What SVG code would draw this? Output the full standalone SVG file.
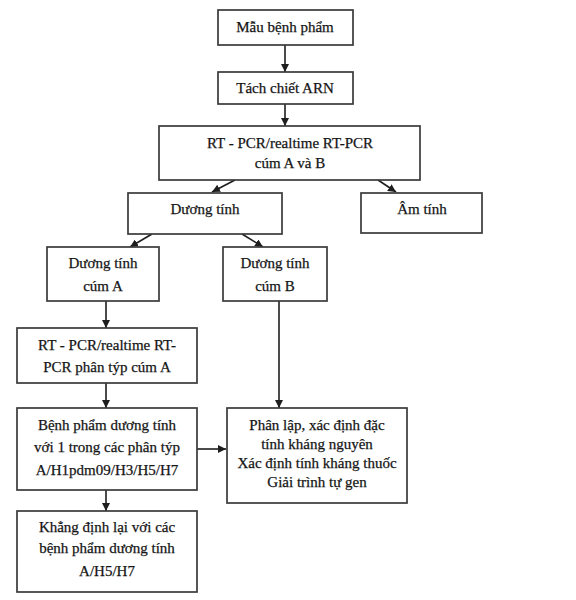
<svg xmlns="http://www.w3.org/2000/svg" width="576" height="600" viewBox="0 0 576 600">
<style>
.box{fill:#fff;stroke:#3a3a3a;stroke-width:1.7}
.t{font-family:"Liberation Serif","Times New Roman",serif;font-size:15px;fill:#151515;stroke:#151515;stroke-width:0.25;text-anchor:middle}
.c{stroke:#1e1e1e;stroke-width:1.6;fill:none;marker-end:url(#ah)}
</style>
<defs>
<marker id="ah" viewBox="0 0 10 10" refX="10" refY="5" markerWidth="8" markerHeight="8" markerUnits="userSpaceOnUse" orient="auto">
<path d="M0,0 L10,5 L0,10 z" fill="#1e1e1e"/>
</marker>
</defs>
<rect width="576" height="600" fill="#fff"/>
<g id="connectors">
<line class="c" x1="285" y1="45" x2="285" y2="72"/>
<line class="c" x1="285" y1="104" x2="285" y2="126"/>
<line class="c" x1="235" y1="180" x2="212" y2="192"/>
<line class="c" x1="378" y1="180" x2="396" y2="192"/>
<line class="c" x1="152" y1="234" x2="130" y2="247"/>
<line class="c" x1="242" y1="234" x2="263" y2="247"/>
<line class="c" x1="106" y1="301" x2="106" y2="328"/>
<line class="c" x1="279" y1="301" x2="279" y2="408"/>
<line class="c" x1="106" y1="383" x2="106" y2="408"/>
<line class="c" x1="197" y1="449" x2="226" y2="449"/>
<line class="c" x1="106" y1="490" x2="106" y2="511"/>
</g>
<g id="n1"><rect class="box" x="218" y="10" width="135" height="35"/><text class="t" x="285" y="32">Mẫu bệnh phẩm</text></g>
<g id="n2"><rect class="box" x="218" y="72" width="135" height="32"/><text class="t" x="285" y="93">Tách chiết ARN</text></g>
<g id="n3"><rect class="box" x="159" y="126" width="261" height="54"/><text class="t" x="290" y="148">RT - PCR/realtime RT-PCR</text><text class="t" x="290" y="168">cúm A và B</text></g>
<g id="n4"><rect class="box" x="128" y="193" width="154" height="41"/><text class="t" x="205" y="214">Dương tính</text></g>
<g id="n5"><rect class="box" x="361" y="193" width="121" height="40"/><text class="t" x="422" y="214">Âm tính</text></g>
<g id="n6"><rect class="box" x="47" y="247" width="112" height="54"/><text class="t" x="103" y="268">Dương tính</text><text class="t" x="103" y="291">cúm A</text></g>
<g id="n7"><rect class="box" x="223" y="247" width="104" height="54"/><text class="t" x="275" y="268">Dương tính</text><text class="t" x="275" y="291">cúm B</text></g>
<g id="n8"><rect class="box" x="17" y="328" width="180" height="55"/><text class="t" x="107" y="350">RT - PCR/realtime RT-</text><text class="t" x="107" y="372">PCR phân týp cúm A</text></g>
<g id="n9"><rect class="box" x="17" y="408" width="180" height="82"/><text class="t" x="107" y="430">Bệnh phẩm dương tính</text><text class="t" x="107" y="452">với 1 trong các phân týp</text><text class="t" x="107" y="475">A/H1pdm09/H3/H5/H7</text></g>
<g id="n10"><rect class="box" x="227" y="408" width="180" height="95"/><text class="t" x="317" y="430">Phân lập, xác định đặc</text><text class="t" x="317" y="449">tính kháng nguyên</text><text class="t" x="317" y="468">Xác định tính kháng thuốc</text><text class="t" x="317" y="487">Giải trình tự gen</text></g>
<g id="n11"><rect class="box" x="17" y="511" width="180" height="81"/><text class="t" x="107" y="532">Khẳng định lại với các</text><text class="t" x="107" y="553">bệnh phẩm dương tính</text><text class="t" x="107" y="576">A/H5/H7</text></g>
</svg>
